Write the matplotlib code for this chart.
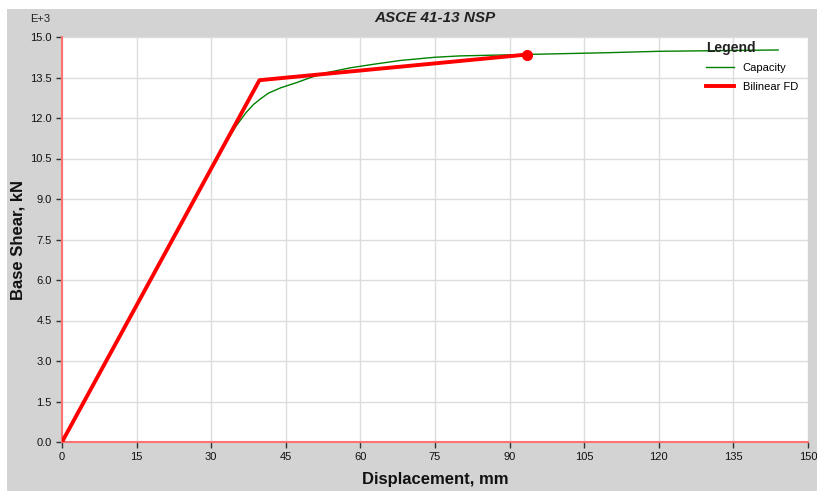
import matplotlib
matplotlib.use("Agg")
import matplotlib.pyplot as plt
from matplotlib.patches import Rectangle

plt.rcParams['font.family'] = ['Liberation Sans', 'DejaVu Sans']

# Data (values in E+3 kN)
cap_x = [0, 30, 33, 35, 37, 38.5, 40, 41.5, 44, 47, 50, 53, 58, 63, 68, 75, 80, 90, 100, 110, 120, 130, 144]
cap_y = [0, 10.1, 11.1, 11.7, 12.2, 12.5, 12.72, 12.92, 13.12, 13.3, 13.5, 13.67, 13.86, 14.0, 14.13, 14.25, 14.3, 14.34, 14.38, 14.42, 14.47, 14.49, 14.52]
bil_x = [0, 39.7, 93.5]
bil_y = [0, 13.4, 14.35]
x_ticks = [0, 15, 30, 45, 60, 75, 90, 105, 120, 135, 150]
y_ticks = [0.0, 1.5, 3.0, 4.5, 6.0, 7.5, 9.0, 10.5, 12.0, 13.5, 15.0]

fig = plt.figure(figsize=(8.17, 4.91), dpi=100, facecolor='white')
fig.patches.append(Rectangle((7/817, 0), 1, (491-9)/491, transform=fig.transFigure,
                             facecolor='#d3d3d3', edgecolor='none', zorder=-10))
ax = fig.add_axes([62/817, 49/491, 746/817, 405/491])
ax.set_facecolor('white')

ax.plot(cap_x, cap_y, color='#008000', lw=1.0, label='Capacity', zorder=3)
ax.plot(bil_x, bil_y, color='#ff0000', lw=2.8, label='Bilinear FD', zorder=4)
ax.plot([bil_x[-1]], [bil_y[-1]], 'o', color='#ff0000', ms=7, zorder=5)

ax.set_xlim(0, 150)
ax.set_ylim(0, 15)
ax.set_xticks(x_ticks)
ax.set_xticklabels([str(v) for v in x_ticks])
ax.set_yticks(y_ticks)
ax.set_yticklabels([f"{v:.1f}" for v in y_ticks])
ax.tick_params(axis='both', direction='out', length=4, width=1, color='#333333',
               labelsize=8, labelcolor='#111111')
ax.grid(True, color='#dcdcdc', lw=1)
ax.set_axisbelow(True)
for s in ['top', 'right']:
    ax.spines[s].set_visible(False)
for s in ['left', 'bottom']:
    ax.spines[s].set_color('#ff7070')
    ax.spines[s].set_linewidth(1.5)

ax.set_xlabel('Displacement, mm', fontsize=12, fontweight='bold', labelpad=7, color='#111111')
ax.set_ylabel('Base Shear, kN', fontsize=12, fontweight='bold', labelpad=3, color='#111111')
fig.text(435/817, 1 - 18/491, 'ASCE 41-13 NSP', fontsize=11, fontweight='bold',
         fontstyle='italic', ha='center', va='center', color='#222222')
fig.text(40/817, 1 - 19/491, 'E+3', fontsize=8, ha='center', va='center', color='#222222')

leg = ax.legend(loc='upper right', bbox_to_anchor=(1.0, 1.015), frameon=False,
                title='Legend', fontsize=8, handlelength=2.5, labelspacing=0.75,
                title_fontproperties={'weight': 'bold', 'size': 10})
leg.get_title().set_color('#222222')
leg._legend_box.align = 'left'

fig.savefig('out.png', dpi=100, facecolor='white')
